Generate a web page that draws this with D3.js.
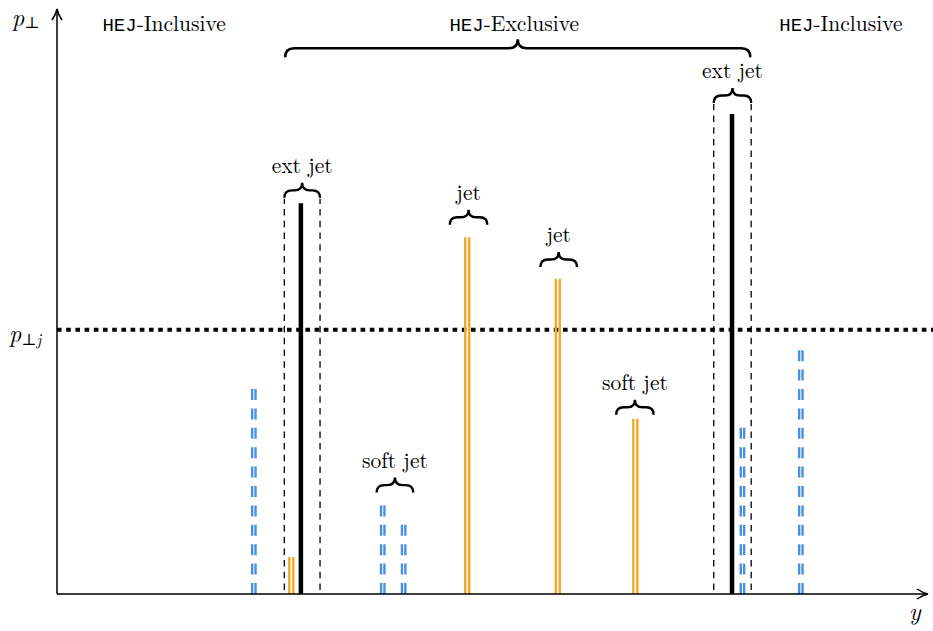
<!DOCTYPE html>
<html><head><meta charset="utf-8">
<script src="https://cdn.jsdelivr.net/npm/d3@7"></script>
<style>body{margin:0;background:#fff}svg{display:block}</style>
</head><body>
<script>
// ---- data (rapidity y in arbitrary units 0..100, transverse momentum in arbitrary units 0..100)
const blueY   = [22.6, 37.4, 39.8, 78.7, 85.4];      // HEJ-Inclusive soft partons (blue dashed)
const bluePt  = [35.2, 15.5, 12.1, 28.8, 42.2];
const orangeY  = [26.9, 47.1, 57.5, 66.4];           // orange double lines
const orangePt = [6.3, 60.9, 53.8, 29.9];
const extY  = [28.0, 77.5];                          // extremal jets (black)
const extPt = [66.7, 81.9];
const boxY1 = [26.1, 75.4];                           // dashed boxes around ext jets
const boxY2 = [30.2, 79.7];
const thresholdPt = 45.1;
const braceLabels = ["ext jet", "soft jet", "jet", "jet", "soft jet", "ext jet"];
const braceY1 = [26.1, 36.7, 45.1, 55.5, 64.2, 75.4];
const braceY2 = [30.2, 40.9, 49.4, 59.7, 68.5, 79.7];
const bracePt = [67.6, 17.3, 63.0, 55.8, 30.6, 83.8];
const regionLabels = ["Inclusive", "Exclusive", "Inclusive"];
const regionY = [12.3, 52.5, 90.0];
const bigBraceY = [26.2, 79.6];
const bigBracePt = [91.6];

const W = 933, H = 631;
const x = d3.scaleLinear().domain([0, 100]).range([57, 928]);
const yS = d3.scaleLinear().domain([0, 100]).range([594, 8]);

const svg = d3.select("body").append("svg").attr("width", W).attr("height", H);
const serif = "'Latin Modern Roman','Liberation Serif','DejaVu Serif',serif";
const mono = "'Liberation Mono','DejaVu Sans Mono',monospace";

function bracePath(x1, x2, yb, h) {
  const cx = (x1 + x2) / 2, ym = yb - h / 2, tip = yb - h, r = h / 2;
  return `M${x1},${yb} Q${x1},${ym} ${x1 + r},${ym} L${cx - r},${ym} Q${cx},${ym} ${cx},${tip} ` +
         `Q${cx},${ym} ${cx + r},${ym} L${x2 - r},${ym} Q${x2},${ym} ${x2},${yb}`;
}

// threshold dotted line
svg.append("line").attr("x1", x(0)).attr("x2", W).attr("y1", yS(thresholdPt)).attr("y2", yS(thresholdPt))
  .attr("stroke", "#000").attr("stroke-width", 4).attr("stroke-dasharray", "4.6,4.6");

// dashed boxes
boxY1.forEach((b, i) => {
  [b, boxY2[i]].forEach(v => {
    svg.append("line").attr("x1", x(v)).attr("x2", x(v))
      .attr("y1", yS(0) - 4).attr("y2", yS(bracePt[i === 0 ? 0 : 5]) + 1)
      .attr("stroke", "#000").attr("stroke-width", 1.3).attr("stroke-dasharray", "6.5,5.2");
  });
});

// blue dashed double lines
blueY.forEach((v, i) => {
  [-1.7, 1.7].forEach(o => {
    svg.append("line").attr("x1", x(v) + o).attr("x2", x(v) + o)
      .attr("y1", yS(0)).attr("y2", yS(bluePt[i]))
      .attr("stroke", "#4a90e2").attr("stroke-width", 2.4).attr("stroke-dasharray", "11,8.4");
  });
});

// orange double lines
orangeY.forEach((v, i) => {
  [-2, 2].forEach(o => {
    svg.append("line").attr("x1", x(v) + o).attr("x2", x(v) + o)
      .attr("y1", yS(0)).attr("y2", yS(orangePt[i]))
      .attr("stroke", "#f5a623").attr("stroke-width", 2.4);
  });
});

// ext jets
extY.forEach((v, i) => {
  svg.append("line").attr("x1", x(v)).attr("x2", x(v))
    .attr("y1", yS(0)).attr("y2", yS(extPt[i]))
    .attr("stroke", "#000").attr("stroke-width", 4.5);
});

// small braces + labels
braceLabels.forEach((t, i) => {
  const x1 = x(braceY1[i]), x2 = x(braceY2[i]), yb = yS(bracePt[i]);
  svg.append("path").attr("d", bracePath(x1, x2, yb, 15))
    .attr("fill", "none").attr("stroke", "#000").attr("stroke-width", 2.4);
  svg.append("text").attr("x", (x1 + x2) / 2).attr("y", yb - 15 - 10)
    .attr("text-anchor", "middle").attr("font-family", serif).attr("font-size", 21.5).text(t);
});

// big brace
svg.append("path").attr("d", bracePath(x(bigBraceY[0]), x(bigBraceY[1]), yS(bigBracePt[0]), 18))
  .attr("fill", "none").attr("stroke", "#000").attr("stroke-width", 2.6);

// region labels
regionLabels.forEach((t, i) => {
  const tx = svg.append("text").attr("x", x(regionY[i])).attr("y", 31)
    .attr("text-anchor", "middle").attr("font-family", serif).attr("font-size", 21.5);
  tx.append("tspan").attr("font-family", mono).attr("font-size", 19).text("HEJ");
  tx.append("tspan").text("-" + t);
});

// axes
svg.append("line").attr("x1", x(0)).attr("x2", x(0)).attr("y1", yS(0)).attr("y2", 9)
  .attr("stroke", "#000").attr("stroke-width", 1.5);
svg.append("path").attr("d", `M${x(0) - 5},${20} Q${x(0) - 1},${14} ${x(0)},${9} Q${x(0) + 1},${14} ${x(0) + 5},${20}`)
  .attr("fill", "none").attr("stroke", "#000").attr("stroke-width", 1.5);
svg.append("line").attr("x1", x(0)).attr("x2", 928).attr("y1", yS(0)).attr("y2", yS(0))
  .attr("stroke", "#000").attr("stroke-width", 1.5);
svg.append("path").attr("d", `M917,${yS(0) - 5} Q923,${yS(0) - 1} 928,${yS(0)} Q923,${yS(0) + 1} 917,${yS(0) + 5}`)
  .attr("fill", "none").attr("stroke", "#000").attr("stroke-width", 1.5);

// axis labels
const pl = svg.append("text").attr("x", 12).attr("y", 26).attr("font-family", serif).attr("font-size", 24);
pl.append("tspan").attr("font-style", "italic").text("p");
pl.append("tspan").attr("font-size", 16).attr("dy", 2).text("⊥");
const pj = svg.append("text").attr("x", 9).attr("y", 342).attr("font-family", serif).attr("font-size", 24);
pj.append("tspan").attr("font-style", "italic").text("p");
pj.append("tspan").attr("font-size", 16).attr("dy", 3).text("⊥");
pj.append("tspan").attr("font-size", 16).attr("font-style", "italic").text("j");
svg.append("text").attr("x", 909).attr("y", 620).attr("font-family", serif).attr("font-size", 24)
  .attr("font-style", "italic").text("y");
</script>
</body></html>
